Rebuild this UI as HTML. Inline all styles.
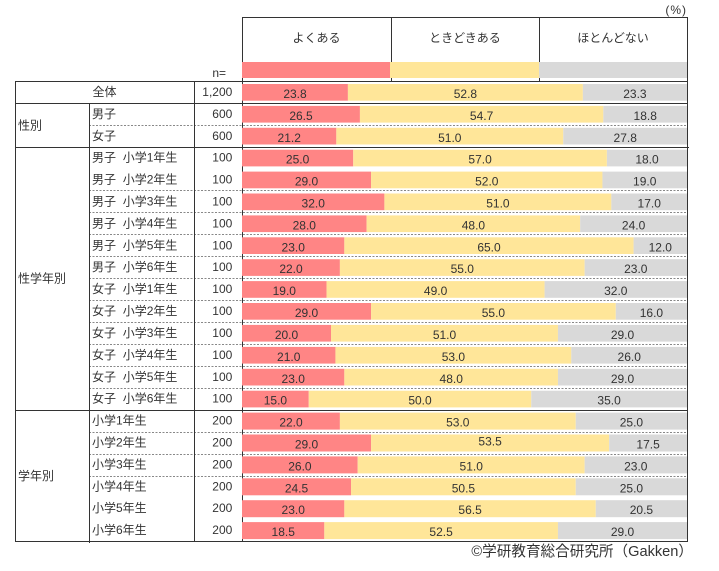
<!DOCTYPE html>
<html><head><meta charset="utf-8"><style>
html,body{margin:0;padding:0;background:#fff;}
svg{display:block;}
text{font-family:"Liberation Sans","Noto Sans CJK JP",sans-serif;fill:#333;}
</style></head><body>
<svg width="719" height="571" viewBox="0 0 719 571" xmlns="http://www.w3.org/2000/svg">
<!-- header -->
<g stroke="#333" stroke-width="1" fill="none">
<line x1="242" y1="17.5" x2="688" y2="17.5"/>
<line x1="242.5" y1="17" x2="242.5" y2="541.5"/>
<line x1="391.5" y1="17" x2="391.5" y2="81"/>
<line x1="539.5" y1="17" x2="539.5" y2="81"/>
<line x1="687.5" y1="17" x2="687.5" y2="542"/>
</g>
<rect x="242" y="62" width="148" height="16" fill="#FF8585"/>
<rect x="390" y="62" width="149" height="16" fill="#FFE699"/>
<rect x="539" y="62" width="148" height="16" fill="#D9D9D9"/>
<g font-size="12" text-anchor="middle" dominant-baseline="central">
<text x="316.5" y="38">よくある</text>
<text x="465" y="38">ときどきある</text>
<text x="613" y="38">ほとんどない</text>
</g>
<text x="687" y="10" font-size="12" text-anchor="end" dominant-baseline="central" letter-spacing="1">(%)</text>
<text x="226" y="73" font-size="12" text-anchor="end" dominant-baseline="central">n=</text>

<!-- dashed lines -->
<g stroke="#888" stroke-width="1" stroke-dasharray="2,1.5">
<line x1="89" y1="125.5" x2="687" y2="125.5"/>
<line x1="89" y1="190.5" x2="687" y2="190.5"/>
<line x1="89" y1="212.5" x2="687" y2="212.5"/>
<line x1="89" y1="234.5" x2="687" y2="234.5"/>
<line x1="89" y1="256.5" x2="687" y2="256.5"/>
<line x1="89" y1="278.5" x2="687" y2="278.5"/>
<line x1="89" y1="300.5" x2="687" y2="300.5"/>
<line x1="89" y1="322.5" x2="687" y2="322.5"/>
<line x1="89" y1="344.5" x2="687" y2="344.5"/>
<line x1="89" y1="366.5" x2="687" y2="366.5"/>
<line x1="89" y1="388.5" x2="687" y2="388.5"/>
<line x1="89" y1="432.5" x2="687" y2="432.5"/>
<line x1="89" y1="454.5" x2="687" y2="454.5"/>
<line x1="89" y1="476.5" x2="687" y2="476.5"/>
</g>
<!-- solid lines -->
<g stroke="#333" stroke-width="1">
<line x1="15" y1="81.5" x2="688" y2="81.5"/>
<line x1="15" y1="103.5" x2="688" y2="103.5"/>
<line x1="15" y1="147.5" x2="689" y2="147.5"/>
<line x1="15" y1="410.5" x2="688" y2="410.5"/>
<line x1="15" y1="541.5" x2="688" y2="541.5"/>
<line x1="15.5" y1="81" x2="15.5" y2="542"/>
<line x1="89.5" y1="103" x2="89.5" y2="543"/>
<line x1="194.5" y1="81" x2="194.5" y2="542"/>
</g>

<!-- bars -->
<g>
<rect x="242" y="84" width="105.91" height="16.7" fill="#FF8585"/><rect x="347.91" y="84" width="234.96" height="16.7" fill="#FFE699"/><rect x="582.87" y="84" width="104.13" height="16.7" fill="#D9D9D9"/>
<rect x="242" y="105.9" width="117.93" height="16.7" fill="#FF8585"/><rect x="359.93" y="105.9" width="243.41" height="16.7" fill="#FFE699"/><rect x="603.34" y="105.9" width="83.66" height="16.7" fill="#D9D9D9"/>
<rect x="242" y="127.8" width="94.34" height="16.7" fill="#FF8585"/><rect x="336.34" y="127.8" width="226.95" height="16.7" fill="#FFE699"/><rect x="563.29" y="127.8" width="123.71" height="16.7" fill="#D9D9D9"/>
<rect x="242" y="149.7" width="111.25" height="16.7" fill="#FF8585"/><rect x="353.25" y="149.7" width="253.65" height="16.7" fill="#FFE699"/><rect x="606.9" y="149.7" width="80.1" height="16.7" fill="#D9D9D9"/>
<rect x="242" y="171.6" width="129.05" height="16.7" fill="#FF8585"/><rect x="371.05" y="171.6" width="231.4" height="16.7" fill="#FFE699"/><rect x="602.45" y="171.6" width="84.55" height="16.7" fill="#D9D9D9"/>
<rect x="242" y="193.5" width="142.4" height="16.7" fill="#FF8585"/><rect x="384.4" y="193.5" width="226.95" height="16.7" fill="#FFE699"/><rect x="611.35" y="193.5" width="75.65" height="16.7" fill="#D9D9D9"/>
<rect x="242" y="215.4" width="124.6" height="16.7" fill="#FF8585"/><rect x="366.6" y="215.4" width="213.6" height="16.7" fill="#FFE699"/><rect x="580.2" y="215.4" width="106.8" height="16.7" fill="#D9D9D9"/>
<rect x="242" y="237.3" width="102.35" height="16.7" fill="#FF8585"/><rect x="344.35" y="237.3" width="289.25" height="16.7" fill="#FFE699"/><rect x="633.6" y="237.3" width="53.4" height="16.7" fill="#D9D9D9"/>
<rect x="242" y="259.2" width="97.9" height="16.7" fill="#FF8585"/><rect x="339.9" y="259.2" width="244.75" height="16.7" fill="#FFE699"/><rect x="584.65" y="259.2" width="102.35" height="16.7" fill="#D9D9D9"/>
<rect x="242" y="281.1" width="84.55" height="16.7" fill="#FF8585"/><rect x="326.55" y="281.1" width="218.05" height="16.7" fill="#FFE699"/><rect x="544.6" y="281.1" width="142.4" height="16.7" fill="#D9D9D9"/>
<rect x="242" y="303" width="129.05" height="16.7" fill="#FF8585"/><rect x="371.05" y="303" width="244.75" height="16.7" fill="#FFE699"/><rect x="615.8" y="303" width="71.2" height="16.7" fill="#D9D9D9"/>
<rect x="242" y="324.9" width="89" height="16.7" fill="#FF8585"/><rect x="331" y="324.9" width="226.95" height="16.7" fill="#FFE699"/><rect x="557.95" y="324.9" width="129.05" height="16.7" fill="#D9D9D9"/>
<rect x="242" y="346.9" width="93.45" height="16.7" fill="#FF8585"/><rect x="335.45" y="346.9" width="235.85" height="16.7" fill="#FFE699"/><rect x="571.3" y="346.9" width="115.7" height="16.7" fill="#D9D9D9"/>
<rect x="242" y="368.8" width="102.35" height="16.7" fill="#FF8585"/><rect x="344.35" y="368.8" width="213.6" height="16.7" fill="#FFE699"/><rect x="557.95" y="368.8" width="129.05" height="16.7" fill="#D9D9D9"/>
<rect x="242" y="390.7" width="66.75" height="16.7" fill="#FF8585"/><rect x="308.75" y="390.7" width="222.5" height="16.7" fill="#FFE699"/><rect x="531.25" y="390.7" width="155.75" height="16.7" fill="#D9D9D9"/>
<rect x="242" y="412.6" width="97.9" height="17" fill="#FF8585"/><rect x="339.9" y="412.6" width="235.85" height="17" fill="#FFE699"/><rect x="575.75" y="412.6" width="111.25" height="17" fill="#D9D9D9"/>
<rect x="242" y="434.5" width="129.05" height="17" fill="#FF8585"/><rect x="371.05" y="434.5" width="238.08" height="17" fill="#FFE699"/><rect x="609.13" y="434.5" width="77.87" height="17" fill="#D9D9D9"/>
<rect x="242" y="456.4" width="115.7" height="17" fill="#FF8585"/><rect x="357.7" y="456.4" width="226.95" height="17" fill="#FFE699"/><rect x="584.65" y="456.4" width="102.35" height="17" fill="#D9D9D9"/>
<rect x="242" y="478.3" width="109.03" height="17" fill="#FF8585"/><rect x="351.03" y="478.3" width="224.72" height="17" fill="#FFE699"/><rect x="575.75" y="478.3" width="111.25" height="17" fill="#D9D9D9"/>
<rect x="242" y="500.2" width="102.35" height="17" fill="#FF8585"/><rect x="344.35" y="500.2" width="251.43" height="17" fill="#FFE699"/><rect x="595.78" y="500.2" width="91.22" height="17" fill="#D9D9D9"/>
<rect x="242" y="522.1" width="82.33" height="17" fill="#FF8585"/><rect x="324.33" y="522.1" width="233.62" height="17" fill="#FFE699"/><rect x="557.95" y="522.1" width="129.05" height="17" fill="#D9D9D9"/>
</g>

<!-- values -->
<g font-size="12" text-anchor="middle" dominant-baseline="central">
<text x="295" y="94">23.8</text><text x="465.4" y="94">52.8</text><text x="634.9" y="94">23.3</text>
<text x="301" y="115.9">26.5</text><text x="481.6" y="115.9">54.7</text><text x="645.2" y="115.9">18.8</text>
<text x="289.2" y="137.8">21.2</text><text x="449.8" y="137.8">51.0</text><text x="625.2" y="137.8">27.8</text>
<text x="297.6" y="159.7">25.0</text><text x="480.1" y="159.7">57.0</text><text x="647" y="159.7">18.0</text>
<text x="306.5" y="181.6">29.0</text><text x="486.8" y="181.6">52.0</text><text x="644.7" y="181.6">19.0</text>
<text x="313.2" y="203.5">32.0</text><text x="497.9" y="203.5">51.0</text><text x="649.2" y="203.5">17.0</text>
<text x="304.3" y="225.4">28.0</text><text x="473.4" y="225.4">48.0</text><text x="633.6" y="225.4">24.0</text>
<text x="293.2" y="247.3">23.0</text><text x="489" y="247.3">65.0</text><text x="660.3" y="247.3">12.0</text>
<text x="291" y="269.2">22.0</text><text x="462.3" y="269.2">55.0</text><text x="635.8" y="269.2">23.0</text>
<text x="284.3" y="291.1">19.0</text><text x="435.6" y="291.1">49.0</text><text x="615.8" y="291.1">32.0</text>
<text x="306.5" y="313">29.0</text><text x="493.4" y="313">55.0</text><text x="651.4" y="313">16.0</text>
<text x="286.5" y="334.9">20.0</text><text x="444.5" y="334.9">51.0</text><text x="622.5" y="334.9">29.0</text>
<text x="288.7" y="356.9">21.0</text><text x="453.4" y="356.9">53.0</text><text x="629.2" y="356.9">26.0</text>
<text x="293.2" y="378.8">23.0</text><text x="451.2" y="378.8">48.0</text><text x="622.5" y="378.8">29.0</text>
<text x="275.4" y="400.7">15.0</text><text x="420" y="400.7">50.0</text><text x="609.1" y="400.7">35.0</text>
<text x="291" y="422.6">22.0</text><text x="457.8" y="422.6">53.0</text><text x="631.4" y="422.6">25.0</text>
<text x="306.5" y="444.5">29.0</text><text x="490.1" y="441.5">53.5</text><text x="648.1" y="444.5">17.5</text>
<text x="299.9" y="466.4">26.0</text><text x="471.2" y="466.4">51.0</text><text x="635.8" y="466.4">23.0</text>
<text x="296.5" y="488.3">24.5</text><text x="463.4" y="488.3">50.5</text><text x="631.4" y="488.3">25.0</text>
<text x="293.2" y="510.2">23.0</text><text x="470.1" y="510.2">56.5</text><text x="641.4" y="510.2">20.5</text>
<text x="283.2" y="532.1">18.5</text><text x="441.1" y="532.1">52.5</text><text x="622.5" y="532.1">29.0</text>
</g>

<!-- labels -->
<g font-size="12" dominant-baseline="central">
<text x="104.5" y="92" text-anchor="middle">全体</text>
<text x="18" y="125.5">性別</text>
<text x="18" y="278.5">性学年別</text>
<text x="18" y="476">学年別</text>

<text x="92" y="113.9">男子</text>
<text x="92" y="135.8">女子</text>

<text x="92" y="157.7">男子</text><text x="122.7" y="157.7">小学1年生</text>
<text x="92" y="179.6">男子</text><text x="122.7" y="179.6">小学2年生</text>
<text x="92" y="201.5">男子</text><text x="122.7" y="201.5">小学3年生</text>
<text x="92" y="223.4">男子</text><text x="122.7" y="223.4">小学4年生</text>
<text x="92" y="245.3">男子</text><text x="122.7" y="245.3">小学5年生</text>
<text x="92" y="267.2">男子</text><text x="122.7" y="267.2">小学6年生</text>
<text x="92" y="289.1">女子</text><text x="122.7" y="289.1">小学1年生</text>
<text x="92" y="311">女子</text><text x="122.7" y="311">小学2年生</text>
<text x="92" y="332.9">女子</text><text x="122.7" y="332.9">小学3年生</text>
<text x="92" y="354.9">女子</text><text x="122.7" y="354.9">小学4年生</text>
<text x="92" y="376.8">女子</text><text x="122.7" y="376.8">小学5年生</text>
<text x="92" y="398.7">女子</text><text x="122.7" y="398.7">小学6年生</text>

<text x="92" y="420.6">小学1年生</text>
<text x="92" y="442.5">小学2年生</text>
<text x="92" y="464.4">小学3年生</text>
<text x="92" y="486.3">小学4年生</text>
<text x="92" y="508.2">小学5年生</text>
<text x="92" y="530.1">小学6年生</text>
</g>

<!-- n -->
<g font-size="12" dominant-baseline="central" text-anchor="end">
<text x="232.3" y="92">1,200</text>
<text x="232.3" y="113.9">600</text>
<text x="232.3" y="135.8">600</text>
<text x="232.3" y="157.7">100</text>
<text x="232.3" y="179.6">100</text>
<text x="232.3" y="201.5">100</text>
<text x="232.3" y="223.4">100</text>
<text x="232.3" y="245.3">100</text>
<text x="232.3" y="267.2">100</text>
<text x="232.3" y="289.1">100</text>
<text x="232.3" y="311">100</text>
<text x="232.3" y="332.9">100</text>
<text x="232.3" y="354.9">100</text>
<text x="232.3" y="376.8">100</text>
<text x="232.3" y="398.7">100</text>
<text x="232.3" y="420.6">200</text>
<text x="232.3" y="442.5">200</text>
<text x="232.3" y="464.4">200</text>
<text x="232.3" y="486.3">200</text>
<text x="232.3" y="508.2">200</text>
<text x="232.3" y="530.1">200</text>
</g>

<text x="693" y="552" font-size="14.6" text-anchor="end" dominant-baseline="central">©学研教育総合研究所（Gakken）</text>
</svg>
</body></html>
